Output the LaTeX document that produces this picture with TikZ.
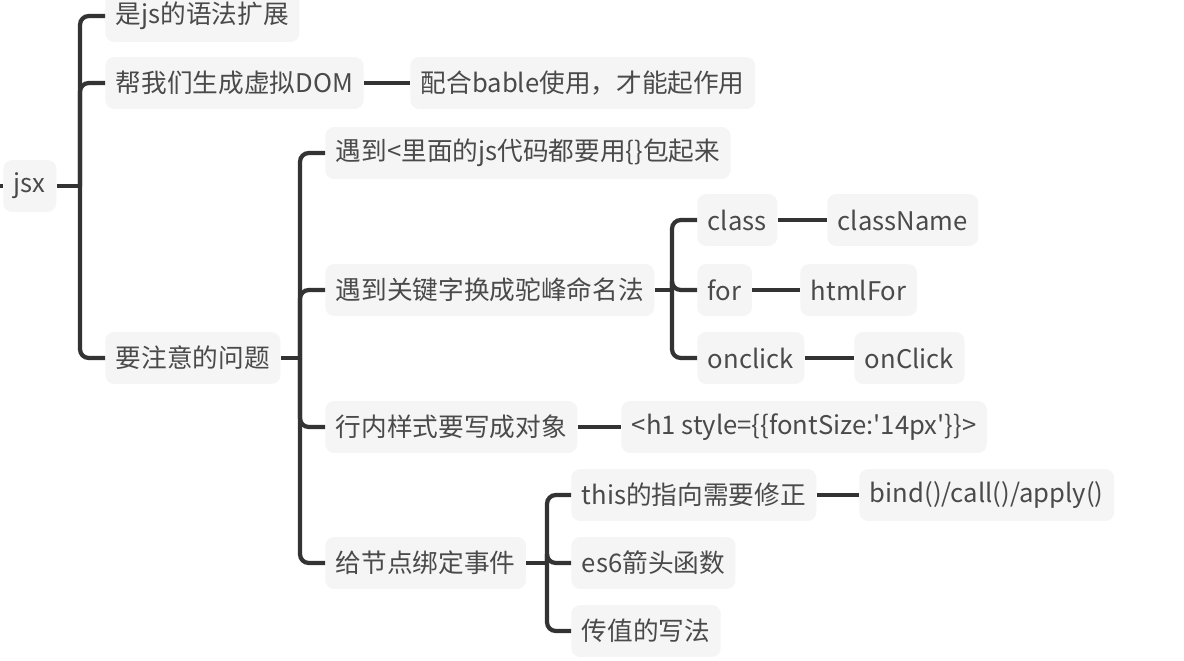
\documentclass[tikz,border=0pt]{standalone}
\usepackage{fontspec}
\setmainfont{Noto Sans CJK SC}[Ligatures=TeXOff]
\definecolor{boxgray}{HTML}{F5F5F5}
\definecolor{linegray}{HTML}{333333}
\definecolor{textgray}{HTML}{4A4A4A}

\begin{document}
\begin{tikzpicture}[x=0.02cm,y=-0.02cm,
	topic/.style={anchor=west,fill=boxgray,rounded corners=5pt,text=textgray,
		minimum height=29.5pt,inner xsep=6pt,font=\fontsize{14.6}{17}\selectfont},
	branch/.style={draw=linegray,line width=2.4pt,rounded corners=5pt}]
	\useasboundingbox[fill=white] (0,0) rectangle (1184,660);
	% topics
	\node[topic] (jsx) at (3,186) {jsx};
	\node[topic] (ext) at (105,16) {是js的语法扩展};
	\node[topic] (vdom) at (105,83) {帮我们生成虚拟DOM};
	\node[topic] (babel) at (410,83) {配合bable使用，才能起作用};
	\node[topic] (notes) at (105,358) {要注意的问题};
	\node[topic] (braces) at (325,153) {遇到<里面的js代码都要用\{\}包起来};
	\node[topic] (camel) at (325,290) {遇到关键字换成驼峰命名法};
	\node[topic] (inline) at (325,427) {行内样式要写成对象};
	\node[topic] (event) at (325,563) {给节点绑定事件};
	\node[topic] (cls) at (697,220) {class};
	\node[topic] (clsname) at (827,220) {className};
	\node[topic] (for) at (697,290) {for};
	\node[topic] (htmlfor) at (800,290) {htmlFor};
	\node[topic] (onclk) at (697,358) {onclick};
	\node[topic] (onClk) at (854,358) {onClick};
	\node[topic] (h1) at (621,427) {<h1 style=\{\{fontSize:'14px'\}\}>};
	\node[topic] (this) at (571,495) {this的指向需要修正};
	\node[topic] (bind) at (859,495) {bind()/call()/apply()};
	\node[topic] (arrow) at (571,563) {es6箭头函数};
	\node[topic] (pass) at (571,631) {传值的写法};
	% junctions
	\coordinate (in) at (-20,186);
	\coordinate (j0) at (80,186);
	\coordinate (j1) at (300,358);
	\coordinate (j2) at (672,290);
	\coordinate (j3) at (547,563);
	% connectors
	\draw[branch] (in) -- (jsx.west);
	\draw[branch] (jsx.east) -- (j0);
	\foreach \c in {ext,vdom,notes}
		\draw[branch] (j0) |- (\c.west);
	\draw[branch] (vdom) -- (babel);
	\draw[branch] (notes.east) -- (j1);
	\foreach \c in {braces,camel,inline,event}
		\draw[branch] (j1) |- (\c.west);
	\draw[branch] (camel.east) -- (j2);
	\foreach \c in {cls,for,onclk}
		\draw[branch] (j2) |- (\c.west);
	\draw[branch] (cls) -- (clsname);
	\draw[branch] (for) -- (htmlfor);
	\draw[branch] (onclk) -- (onClk);
	\draw[branch] (inline) -- (h1);
	\draw[branch] (event.east) -- (j3);
	\foreach \c in {this,arrow,pass}
		\draw[branch] (j3) |- (\c.west);
	\draw[branch] (this) -- (bind);
\end{tikzpicture}
\end{document}
